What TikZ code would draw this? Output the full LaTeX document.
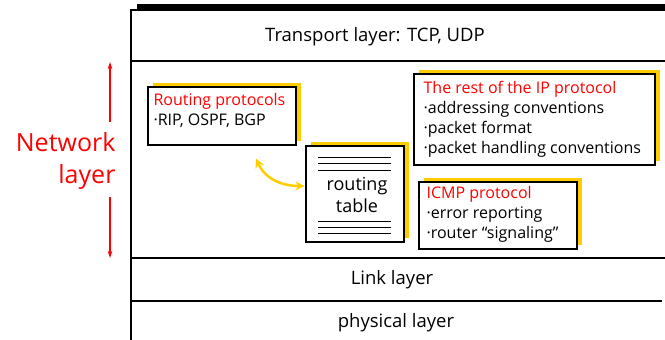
\documentclass[tikz,border=0pt]{standalone}
\usepackage{fontspec}
\setmainfont{Open Sans}
\usetikzlibrary{arrows.meta,shadows}
\definecolor{memoyellow}{RGB}{255,204,0}
\definecolor{netred}{RGB}{255,0,0}

\tikzset{
  memo/.style={draw, line width=1.2pt, fill=white,
    drop shadow={shadow xshift=5pt, shadow yshift=4pt, fill=memoyellow, opacity=1}},
  memotext/.style={anchor=north west, align=left, inner sep=0pt, font=\fontsize{16}{20}\selectfont},
  layertext/.style={font=\fontsize{18.5}{20}\selectfont},
}

\begin{document}
\begin{tikzpicture}[x=1pt,y=-1pt]
  \useasboundingbox (0,0) rectangle (665,340);

  % protocol stack frame
  \fill (137,4) rectangle (665,10);
  \draw[line width=1.5pt] (665,10) -- (131,10) -- (131,340);
  \draw[line width=1.5pt] (131,61) -- (665,61);
  \draw[line width=1.5pt] (131,258) -- (665,258);
  \draw[line width=1.2pt] (131,301) -- (662,301);

  \node[layertext] (transport) at (375,37) {Transport layer: TCP, UDP};
  \node[layertext] (link) at (392,280) {Link layer};
  \node[layertext] (phys) at (396,323) {physical layer};

  % network layer marker
  \node[netred, align=right, anchor=east, font=\fontsize{25}{32}\selectfont] (net) at (119,161) {Network\\layer};
  \coordinate (nettop) at (110,62);
  \coordinate (netbot) at (110,258);
  \draw[netred, line width=1.2pt, -{Stealth[length=7pt,width=4.5pt]}] ([yshift=-60pt]nettop) -- (nettop);
  \draw[netred, line width=1.2pt, -{Stealth[length=7pt,width=4.5pt]}] ([yshift=61pt]netbot) -- (netbot);

  % routing protocols
  \node[memo, minimum width=148pt, minimum height=58pt] (rp) at (222,116) {};
  \node[memotext] (rptext) at ([shift={(6,7)}]rp.north west)
    {\textcolor{netred}{Routing protocols}\\·RIP, OSPF, BGP};

  % routing table
  \node[memo, minimum width=98pt, minimum height=96pt] (rt) at (355,194) {};
  \foreach \y in {157,163,170,221,227,233}
    \draw[line width=1pt] (318,\y) -- (391,\y);
  \node[align=center, font=\fontsize{18}{22}\selectfont] (rttext) at (357,195) {routing\\table};

  % IP protocol
  \node[memo, minimum width=241pt, minimum height=91pt] (ip) at (534.5,119.5) {};
  \node[memotext] (iptext) at ([shift={(10,8)}]ip.north west)
    {\textcolor{netred}{The rest of the IP protocol}\\·addressing conventions\\·packet format\\·packet handling conventions};

  % ICMP
  \node[memo, minimum width=158pt, minimum height=67pt] (icmp) at (498,215.5) {};
  \node[memotext] (icmptext) at ([shift={(8,5)}]icmp.north west)
    {\textcolor{netred}{ICMP protocol}\\·error reporting\\·router “signaling”};

  % exchange between protocols and table
  \draw[memoyellow, line width=2.5pt, {Stealth[length=9pt,width=9pt]}-{Stealth[length=9pt,width=9pt]}]
    ([shift={(34,13)}]rp.south) .. controls +(10,22) and +(-20,0) .. ([shift={(-1,-8)}]rt.west);
\end{tikzpicture}
\end{document}
